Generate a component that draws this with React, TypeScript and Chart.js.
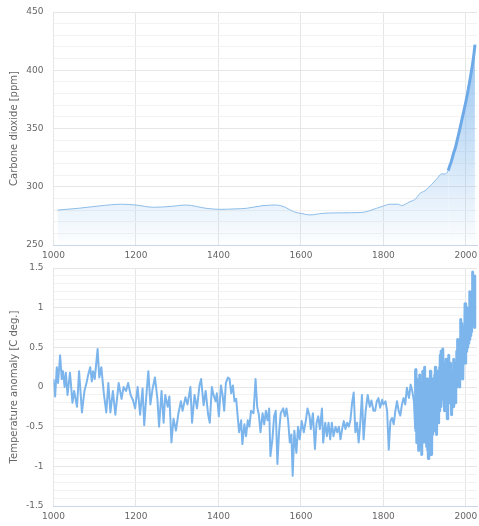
import React, { useEffect, useRef } from 'react';
import { Chart, registerables } from 'chart.js';

Chart.register(...registerables);

const FONT = "'DejaVu Sans', Verdana, sans-serif";

// X axis
const xMin = 1000;
const xMax = 2027;
const xTickYears = [1000, 1200, 1400, 1600, 1800, 2000];

// CO2 (ppm)
const co2Years = [1010, 1060, 1110, 1165, 1200, 1242, 1280, 1322, 1370, 1404, 1440, 1468, 1508, 1540, 1562, 1582, 1602, 1622, 1654, 1695, 1750, 1767, 1800, 1816, 1836, 1844, 1864, 1877, 1889, 1901, 1917, 1929, 1941, 1949, 1957, 1960, 1965, 1970, 1975, 1980, 1985, 1990, 1995, 2000, 2005, 2010, 2015, 2020, 2022];
const co2Ppm = [280.0, 281.5, 283.5, 285.0, 284.3, 282.4, 283.0, 284.3, 281.5, 280.6, 281.0, 281.5, 283.8, 284.3, 282.4, 278.6, 277.0, 275.8, 277.2, 277.6, 278.0, 279.5, 283.5, 285.0, 285.0, 283.8, 287.2, 289.2, 294.4, 296.6, 302.1, 306.4, 311.0, 311.0, 313.8, 317.0, 322.0, 328.5, 334.0, 341.5, 349.0, 357.0, 365.0, 373.0, 382.0, 392.0, 402.5, 415.0, 422.0];
const co2Labels = [250, 300, 350, 400, 450];
const co2Min = 250;
const co2Max = 450;
const co2GridStep = 10;

// Temperature anomaly (C deg.) — proxy period
const tempProxyYears = [1000, 1004, 1008, 1011, 1016, 1020, 1023, 1027, 1030, 1034, 1040, 1046, 1050, 1057, 1062, 1069, 1075, 1080, 1084, 1089, 1093, 1096, 1100, 1107, 1111, 1116, 1122, 1128, 1133, 1138, 1144, 1150, 1158, 1165, 1170, 1176, 1181, 1187, 1193, 1198, 1204, 1210, 1216, 1220, 1226, 1230, 1235, 1240, 1246, 1252, 1256, 1262, 1267, 1271, 1277, 1281, 1286, 1291, 1297, 1303, 1309, 1313, 1320, 1325, 1332, 1336, 1342, 1348, 1354, 1358, 1364, 1369, 1375, 1379, 1384, 1388, 1393, 1396, 1401, 1406, 1410, 1414, 1418, 1423, 1427, 1431, 1435, 1439, 1443, 1450, 1455, 1458, 1463, 1467, 1471, 1475, 1479, 1485, 1490, 1494, 1498, 1502, 1507, 1511, 1515, 1519, 1523, 1526, 1531, 1535, 1539, 1543, 1547, 1551, 1557, 1561, 1565, 1569, 1573, 1577, 1580, 1584, 1589, 1593, 1597, 1602, 1607, 1612, 1616, 1621, 1624, 1629, 1634, 1638, 1642, 1646, 1651, 1654, 1659, 1663, 1667, 1671, 1675, 1679, 1684, 1688, 1692, 1696, 1700, 1704, 1708, 1712, 1716, 1720, 1724, 1728, 1732, 1736, 1740, 1744, 1748, 1752, 1757, 1762, 1767, 1771, 1776, 1780, 1784, 1788, 1792, 1797, 1800, 1805, 1809, 1813, 1817, 1821, 1825, 1829, 1833, 1837, 1841, 1845, 1849, 1853, 1857, 1862, 1866, 1870, 1874, 1877];
const tempProxyValues = [0.10, -0.12, 0.25, 0.05, 0.40, 0.10, 0.20, 0.00, 0.18, -0.10, 0.18, -0.20, -0.05, -0.25, 0.20, -0.32, -0.05, 0.05, 0.15, 0.25, 0.07, 0.20, 0.10, 0.48, 0.12, 0.25, -0.08, -0.32, 0.05, -0.32, -0.05, -0.35, 0.05, -0.15, 0.00, -0.05, 0.05, -0.10, -0.17, -0.27, 0.00, -0.35, -0.02, -0.48, -0.05, 0.20, -0.22, -0.03, 0.12, -0.15, -0.50, -0.05, -0.45, -0.10, -0.25, -0.12, -0.70, -0.40, -0.55, -0.33, -0.18, -0.30, -0.13, -0.22, 0.00, -0.45, -0.10, -0.27, 0.02, 0.10, -0.23, -0.05, -0.35, -0.45, 0.00, -0.10, -0.18, -0.08, -0.37, 0.02, -0.10, -0.30, 0.05, 0.12, 0.10, -0.08, 0.02, -0.18, -0.15, -0.57, -0.42, -0.72, -0.47, -0.62, -0.42, -0.50, -0.30, -0.33, 0.10, -0.25, -0.35, -0.57, -0.33, -0.47, -0.30, -0.42, -0.27, -0.87, -0.65, -0.37, -0.30, -0.97, -0.57, -0.33, -0.27, -0.37, -0.27, -0.42, -0.70, -0.60, -1.12, -0.55, -0.83, -0.50, -0.66, -0.43, -0.57, -0.42, -0.27, -0.37, -0.53, -0.33, -0.78, -0.45, -0.37, -0.53, -0.27, -0.70, -0.45, -0.62, -0.45, -0.66, -0.45, -0.62, -0.50, -0.57, -0.50, -0.66, -0.53, -0.43, -0.53, -0.45, -0.50, -0.42, -0.20, -0.07, -0.57, -0.45, -0.70, -0.45, -0.10, -0.66, -0.30, -0.10, -0.25, -0.17, -0.30, -0.30, -0.18, -0.14, -0.26, -0.16, -0.22, -0.18, -0.30, -0.79, -0.43, -0.39, -0.47, -0.30, -0.18, -0.30, -0.36, -0.22, -0.14, -0.22, -0.01, -0.14, 0.03, -0.05, -0.18, -0.52];

// Temperature anomaly — instrumental period, one value per year from 1878
const tempInstrStart = 1878;
const tempInstrValues = [
  0.22, -0.55, 0.10, -0.70, 0.05, -0.60, -0.05, -0.80, 0.00, -0.65,
  0.15, -0.75, -0.10, -0.60, 0.05, -0.85, -0.05, -0.70, 0.20, -0.50,
  0.00, -0.65, 0.25, -0.55, 0.05, -0.70, -0.10, -0.75, 0.10, -0.80,
  -0.15, -0.90, -0.10, -0.85, 0.00, -0.70, 0.20, -0.50, -0.10, -0.85,
  0.05, -0.60, 0.10, -0.50, 0.00, -0.55, 0.15, -0.45, 0.25, -0.40,
  0.10, -0.60, 0.20, -0.35, 0.15, -0.45, 0.20, -0.30, 0.25, -0.20,
  0.40, -0.25, 0.45, -0.10, 0.35, -0.15, 0.48, -0.10, 0.30, -0.20,
  0.25, -0.30, 0.20, -0.25, 0.35, -0.15, 0.20, -0.40, 0.15, -0.20,
  0.40, -0.15, 0.30, -0.10, 0.30, -0.20, 0.10, -0.35, 0.20, -0.15,
  0.20, -0.10, 0.35, -0.25, 0.30, -0.05, 0.15, -0.20, 0.20, 0.00,
  0.45, 0.05, 0.60, 0.10, 0.55, 0.05, 0.50, 0.00, 0.60, 0.15,
  0.85, 0.20, 0.80, 0.25, 0.60, 0.10, 0.75, 0.30, 0.70, 0.35,
  1.05, 0.30, 0.80, 0.45, 0.95, 0.50, 0.90, 0.60, 1.00, 0.55,
  0.90, 0.60, 1.20, 0.65, 1.00, 0.70, 1.10, 0.80, 1.45, 0.85,
  1.20, 0.90, 1.40, 0.75, 0.95
];
const tempLabels = [-1.5, -1, -0.5, 0, 0.5, 1, 1.5];
const tempMin = -1.5;
const tempMax = 1.5;
const tempGridStep = 0.1;

const LINE_BLUE = '#7cb5ec';
const LABEL_GREY = '#666666';

function gridValues(min: number, max: number, step: number) {
  const out: number[] = [];
  const n = Math.round((max - min) / step);
  for (let i = 0; i <= n; i++) out.push(Math.round((min + i * step) * 1000) / 1000);
  return out;
}

function isLabelled(v: number, labels: number[]) {
  return labels.some((l) => Math.abs(l - v) < 1e-6);
}

function xScale(height: number) {
  return {
    type: 'linear' as const,
    min: xMin,
    max: xMax,
    afterBuildTicks: (s: any) => {
      s.ticks = xTickYears.map((v) => ({ value: v }));
    },
    afterFit: (s: any) => {
      s.height = height;
      s.paddingLeft = 0;
      s.paddingRight = 0;
    },
    ticks: {
      color: LABEL_GREY,
      font: { family: FONT, size: 9 },
      padding: 5,
      maxRotation: 0,
      autoSkip: false,
      callback: (v: any) => String(v),
    },
    grid: { color: '#e6e6e6', drawTicks: false, lineWidth: 1 },
    border: { display: true, color: '#ccd6eb', width: 1 },
  };
}

function yScale(min: number, max: number, step: number, labels: number[], title: string) {
  const grid = gridValues(min, max, step);
  return {
    type: 'linear' as const,
    min,
    max,
    afterBuildTicks: (s: any) => {
      s.ticks = grid.map((v) => ({ value: v }));
    },
    afterFit: (s: any) => {
      s.width = 53.5;
      s.paddingTop = 0;
      s.paddingBottom = 0;
    },
    ticks: {
      color: LABEL_GREY,
      font: { family: FONT, size: 9 },
      padding: 10,
      autoSkip: false,
      callback: (v: any) => (isLabelled(Number(v), labels) ? String(Number(v)) : ''),
    },
    grid: {
      drawTicks: false,
      color: (ctx: any) =>
        ctx.tick && isLabelled(ctx.tick.value, labels) ? '#e6e6e6' : '#f2f2f2',
    },
    border: { display: false },
    title: {
      display: true,
      text: title,
      color: LABEL_GREY,
      font: { family: FONT, size: 10 },
      padding: { top: 8, bottom: 0 },
    },
  };
}

export default function App() {
  const topRef = useRef<HTMLCanvasElement | null>(null);
  const botRef = useRef<HTMLCanvasElement | null>(null);

  useEffect(() => {
    document.body.style.margin = '0';
    if (!topRef.current || !botRef.current) return;

    const co2Points = co2Years.map((x, i) => ({ x, y: co2Ppm[i] }));
    const tempPoints = [
      ...tempProxyYears.map((x, i) => ({ x, y: tempProxyValues[i] })),
      ...tempInstrValues.map((y, i) => ({ x: tempInstrStart + i, y })),
    ];

    const top = new Chart(topRef.current, {
      type: 'line',
      data: {
        datasets: [
          {
            data: co2Points,
            borderColor: '#8dbde8',
            borderWidth: 1,
            pointRadius: 0,
            cubicInterpolationMode: 'monotone',
            fill: 'start',
            segment: {
              borderWidth: (c: any) => (c.p0.parsed.x >= 1957 ? 3 : 1),
              borderColor: (c: any) => (c.p0.parsed.x >= 1957 ? '#6eaae8' : '#8dbde8'),
            },
            backgroundColor: (ctx: any) => {
              const chart = ctx.chart;
              const area = chart.chartArea;
              if (!area) return 'rgba(124,181,236,0.2)';
              const g = chart.ctx.createLinearGradient(0, area.top, 0, area.bottom);
              g.addColorStop(0, 'rgba(124,181,236,0.9)');
              g.addColorStop(1, 'rgba(124,181,236,0.02)');
              return g;
            },
          } as any,
        ],
      },
      options: {
        animation: false,
        responsive: false,
        maintainAspectRatio: false,
        devicePixelRatio: 1,
        layout: { padding: { top: 12, right: 2, left: 0, bottom: 0 } },
        plugins: { legend: { display: false }, tooltip: { enabled: false } },
        scales: {
          x: xScale(19) as any,
          y: yScale(co2Min, co2Max, co2GridStep, co2Labels, 'Carbone dioxide [ppm]') as any,
        },
      },
    });

    const bot = new Chart(botRef.current, {
      type: 'line',
      data: {
        datasets: [
          {
            data: tempPoints,
            borderColor: LINE_BLUE,
            borderWidth: 2,
            pointRadius: 0,
            tension: 0,
            fill: false,
            borderJoinStyle: 'round',
            segment: {
              borderWidth: (c: any) => (c.p0.parsed.x >= tempInstrStart ? 3 : 2),
            },
          } as any,
        ],
      },
      options: {
        animation: false,
        responsive: false,
        maintainAspectRatio: false,
        devicePixelRatio: 1,
        layout: { padding: { top: 12, right: 2, left: 0, bottom: 0 } },
        plugins: { legend: { display: false }, tooltip: { enabled: false } },
        scales: {
          x: xScale(20) as any,
          y: yScale(tempMin, tempMax, tempGridStep, tempLabels, 'Temperature anomaly [C deg.]') as any,
        },
      },
    });

    return () => {
      top.destroy();
      bot.destroy();
    };
  }, []);

  return (
    <div style={{ position: 'relative', width: 479, height: 526, overflow: 'hidden' }}>
      <canvas
        ref={topRef}
        width={479}
        height={264}
        style={{ position: 'absolute', left: 0, top: 0, width: 479, height: 264 }}
      />
      <canvas
        ref={botRef}
        width={479}
        height={270}
        style={{ position: 'absolute', left: 0, top: 256, width: 479, height: 270 }}
      />
    </div>
  );
}
